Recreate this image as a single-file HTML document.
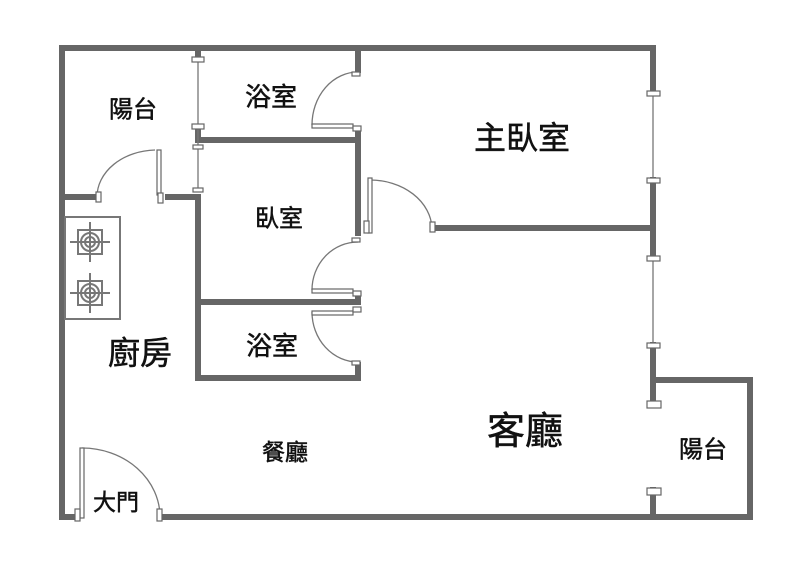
<!DOCTYPE html>
<html><head><meta charset="utf-8"><style>
html,body{margin:0;padding:0;background:#fff;width:800px;height:576px;overflow:hidden}
text{font-family:"Liberation Sans","Noto Sans CJK TC",sans-serif;fill:#111;stroke:#111;stroke-width:0.5;text-anchor:middle;dominant-baseline:central}
</style></head><body>
<svg width="800" height="576" viewBox="0 0 800 576" xmlns="http://www.w3.org/2000/svg">
<g stroke="#666" stroke-width="6" fill="none" stroke-linecap="square">
<path d="M62,48 H653 V93"/>
<path d="M653,180 V258"/>
<path d="M653,345 V403"/>
<path d="M653,490 V517"/>
<path d="M62,48 V517 H75"/>
<path d="M163,517 H750 V380 H653"/>
<path d="M198,48 V56"/>
<path d="M198,129 V140 H358"/>
<path d="M358,48 V70"/>
<path d="M358,130 V233"/>
<path d="M437,228 H653"/>
<path d="M62,197 H95"/>
<path d="M168,197 H198 V378 H358 V365"/>
<path d="M198,302 H358 V296"/>
</g>
<g stroke="#777" stroke-width="1.3" fill="none">
<line x1="198" y1="60" x2="198" y2="190"/>
<line x1="653" y1="93" x2="653" y2="180"/>
<line x1="653" y1="258" x2="653" y2="345"/>
<path d="M358,72 A46,53 0 0 0 312,125"/>
<path d="M370,180 A62,50 0 0 1 432,228"/>
<path d="M358,242 A46,48 0 0 0 312,290"/>
<path d="M312,312 A46,50 0 0 0 358,362"/>
<path d="M155,150 A60,47 0 0 0 97,197"/>
<path d="M82,448 A78,69 0 0 1 160,517"/>
</g>
<g stroke="#666" stroke-width="1.2" fill="#fff">
<rect x="192" y="57" width="12" height="5"/><rect x="192" y="124" width="12" height="5"/>
<rect x="193" y="145" width="10" height="4"/><rect x="193" y="188" width="10" height="4"/>
<rect x="647" y="91" width="13" height="5"/><rect x="647" y="178" width="13" height="5"/>
<rect x="647" y="256" width="13" height="5"/><rect x="647" y="343" width="13" height="5"/>
<rect x="647" y="401" width="14" height="7"/><rect x="647" y="488" width="14" height="7"/>
<rect x="352" y="72" width="8" height="4"/><rect x="312" y="124" width="41" height="4"/><rect x="353" y="126" width="8" height="5"/>
<rect x="368" y="178" width="4" height="55"/><rect x="364" y="221" width="5" height="12"/><rect x="430" y="222" width="5" height="10"/>
<rect x="352" y="238" width="8" height="4"/><rect x="312" y="289" width="41" height="4"/><rect x="353" y="291" width="8" height="5"/>
<rect x="312" y="311" width="41" height="4"/><rect x="353" y="307" width="8" height="5"/><rect x="352" y="361" width="8" height="4"/>
<rect x="157" y="150" width="4" height="45"/><rect x="158" y="193" width="5" height="10"/><rect x="96" y="192" width="5" height="10"/>
<rect x="80" y="448" width="4" height="70"/><rect x="75" y="509" width="5" height="12"/><rect x="157" y="509" width="5" height="12"/>
</g>
<g stroke="#777" stroke-width="2" fill="none">
<rect x="65" y="217" width="55" height="102"/>
<g><line x1="70" y1="242" x2="110" y2="242"/><line x1="90" y1="222" x2="90" y2="262"/><rect x="78" y="230" width="24" height="24"/><circle cx="90" cy="242" r="9"/><circle cx="90" cy="242" r="5"/></g>
<g><line x1="70" y1="293" x2="110" y2="293"/><line x1="90" y1="273" x2="90" y2="313"/><rect x="78" y="281" width="24" height="24"/><circle cx="90" cy="293" r="9"/><circle cx="90" cy="293" r="5"/></g>
</g>
<text x="133" y="110" font-size="24">陽台</text>
<text x="271" y="97" font-size="26">浴室</text>
<text x="279" y="219" font-size="24">臥室</text>
<text x="522" y="138" font-size="32">主臥室</text>
<text x="140" y="353" font-size="32">廚房</text>
<text x="272" y="346" font-size="26">浴室</text>
<text x="285" y="452" font-size="23">餐廳</text>
<text x="525" y="432" font-size="38">客廳</text>
<text x="703" y="450" font-size="24">陽台</text>
<text x="116" y="502" font-size="23">大門</text>
</svg>
</body></html>
